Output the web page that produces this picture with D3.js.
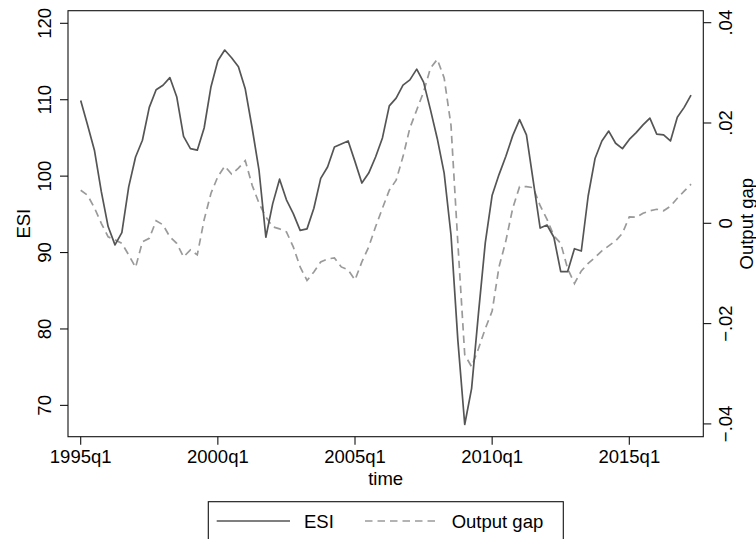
<!DOCTYPE html>
<html>
<head>
<meta charset="utf-8">
<script src="https://cdn.jsdelivr.net/npm/d3@7"></script>
<style>
  html, body { margin: 0; padding: 0; background: #fff; }
  svg { display: block; }
  text { font-family: "Liberation Sans", Arial, Helvetica, sans-serif; fill: #000; }
</style>
</head>
<body>
<svg id="chart" width="756" height="539"></svg>
<script>
// ---- data ----
const startYear = 1995;
const esi = [
  109.9, 106.7, 103.4, 98.0, 93.4, 91.0, 92.6, 98.6, 102.5, 104.7,
  109.0, 111.3, 111.9, 112.9, 110.4, 105.2, 103.6, 103.4, 106.3, 111.7,
  115.1, 116.5, 115.5, 114.3, 111.4, 106.3, 100.8, 92.0, 96.4, 99.6,
  96.9, 95.1, 92.9, 93.1, 95.8, 99.7, 101.2, 103.8, 104.2, 104.6,
  101.9, 99.1, 100.4, 102.5, 105.0, 109.2, 110.2, 111.9, 112.6, 114.0,
  112.3, 108.7, 104.9, 100.4, 92.3, 78.5, 67.5, 72.2, 82.0, 91.3,
  97.5, 100.2, 102.6, 105.3, 107.4, 105.4, 99.3, 93.2, 93.6, 92.0,
  87.5, 87.5, 90.5, 90.2, 97.4, 102.3, 104.6, 105.9, 104.3, 103.6,
  104.8, 105.7, 106.7, 107.6, 105.5, 105.4, 104.6, 107.7, 109.0, 110.6
];
const outputGap = [
  0.0066, 0.0056, 0.0031, 0.0000, -0.0027, -0.0033, -0.0040, -0.0063, -0.0088, -0.0037,
  -0.0030, 0.0005, -0.0003, -0.0027, -0.0040, -0.0067, -0.0053, -0.0063, 0.0007, 0.0060,
  0.0093, 0.0114, 0.0098, 0.0110, 0.0125, 0.0076, 0.0040, 0.0013, -0.0007, -0.0011,
  -0.0017, -0.0047, -0.0087, -0.0114, -0.0097, -0.0077, -0.0071, -0.0069, -0.0087, -0.0093,
  -0.0113, -0.0077, -0.0047, -0.0007, 0.0030, 0.0066, 0.0086, 0.0133, 0.0190, 0.0226,
  0.0262, 0.0309, 0.0327, 0.0290, 0.0195, -0.0040, -0.0262, -0.0286, -0.0250, -0.0210,
  -0.0175, -0.0087, -0.0035, 0.0030, 0.0073, 0.0073, 0.0071, 0.0035, 0.0008, -0.0025,
  -0.0040, -0.0090, -0.0120, -0.0095, -0.0080, -0.0068, -0.0055, -0.0045, -0.0035, -0.0020,
  0.0013, 0.0012, 0.0020, 0.0025, 0.0028, 0.0025, 0.0034, 0.0050, 0.0064, 0.0078
];
const xTickIdx = [0, 20, 40, 60, 80];
const xTickLabels = ["1995q1", "2000q1", "2005q1", "2010q1", "2015q1"];
const yLeftTicks = [70, 80, 90, 100, 110, 120];
const yRightTicks = [-0.04, -0.02, 0, 0.02, 0.04];
const yRightLabels = ["\u2212.04", "\u2212.02", "0", ".02", ".04"];
const seriesNames = ["ESI", "Output gap"];

// ---- layout ----
const svg = d3.select("#chart");
const L = 68, R = 703.3, T = 10.7, B = 436.7;
const FS = 18.5;

const x = d3.scaleLinear().domain([-1.852, 90.79]).range([L, R]);
const yL = d3.scaleLinear().domain([65.9, 121.65]).range([B, T]);
const yR = d3.scaleLinear().domain([-0.04255, 0.04239]).range([B, T]);

// frame
svg.append("rect").attr("x", L).attr("y", T).attr("width", R - L).attr("height", B - T)
  .attr("fill", "none").attr("stroke", "#111").attr("stroke-width", 1.1);

// left axis
const gL = svg.append("g");
gL.selectAll("line").data(yLeftTicks).join("line")
  .attr("x1", L - 8).attr("x2", L).attr("y1", d => yL(d)).attr("y2", d => yL(d))
  .attr("stroke", "#111").attr("stroke-width", 1.1);
gL.selectAll("text").data(yLeftTicks).join("text")
  .attr("transform", d => `translate(51,${yL(d)}) rotate(-90)`)
  .attr("text-anchor", "middle").attr("font-size", FS).text(d => d);
svg.append("text").attr("transform", `translate(30,${(T + B) / 2}) rotate(-90)`)
  .attr("text-anchor", "middle").attr("font-size", FS).text("ESI");

// right axis
const gR = svg.append("g");
gR.selectAll("line").data(yRightTicks).join("line")
  .attr("x1", R).attr("x2", R + 8).attr("y1", d => yR(d)).attr("y2", d => yR(d))
  .attr("stroke", "#111").attr("stroke-width", 1.1);
gR.selectAll("text").data(yRightTicks).join("text")
  .attr("transform", d => `translate(732,${yR(d)}) rotate(-90)`)
  .attr("text-anchor", "middle").attr("font-size", FS).text((d, i) => yRightLabels[i]);
svg.append("text").attr("transform", `translate(753,${(T + B) / 2}) rotate(-90)`)
  .attr("text-anchor", "middle").attr("font-size", FS).text("Output gap");

// bottom axis
const gB = svg.append("g");
gB.selectAll("line").data(xTickIdx).join("line")
  .attr("x1", d => x(d)).attr("x2", d => x(d)).attr("y1", B).attr("y2", B + 8)
  .attr("stroke", "#111").attr("stroke-width", 1.1);
gB.selectAll("text").data(xTickIdx).join("text")
  .attr("x", d => x(d)).attr("y", 463.3)
  .attr("text-anchor", "middle").attr("font-size", FS).text((d, i) => xTickLabels[i]);
svg.append("text").attr("x", (L + R) / 2).attr("y", 485)
  .attr("text-anchor", "middle").attr("font-size", FS).text("time");

// lines
const lineL = d3.line().x((d, i) => x(i)).y(d => yL(d));
const lineR = d3.line().x((d, i) => x(i)).y(d => yR(d));
svg.append("path").datum(outputGap).attr("d", lineR)
  .attr("fill", "none").attr("stroke", "#9a9a9a").attr("stroke-width", 1.7)
  .attr("stroke-dasharray", "7.5,5");
svg.append("path").datum(esi).attr("d", lineL)
  .attr("fill", "none").attr("stroke", "#555").attr("stroke-width", 1.7)
  .attr("stroke-linejoin", "round");

// legend
const lg = svg.append("g");
lg.append("rect").attr("x", 208.3).attr("y", 501.7).attr("width", 355).attr("height", 40)
  .attr("fill", "#fff").attr("stroke", "#111").attr("stroke-width", 1.1);
lg.append("line").attr("x1", 216.7).attr("x2", 290).attr("y1", 521).attr("y2", 521)
  .attr("stroke", "#555").attr("stroke-width", 1.7);
lg.append("text").attr("x", 304).attr("y", 528.3).attr("font-size", FS).text(seriesNames[0]);
lg.append("line").attr("x1", 365).attr("x2", 440).attr("y1", 521).attr("y2", 521)
  .attr("stroke", "#9a9a9a").attr("stroke-width", 1.7).attr("stroke-dasharray", "7.5,5");
lg.append("text").attr("x", 451.7).attr("y", 528.3).attr("font-size", FS).text(seriesNames[1]);
</script>
</body>
</html>
